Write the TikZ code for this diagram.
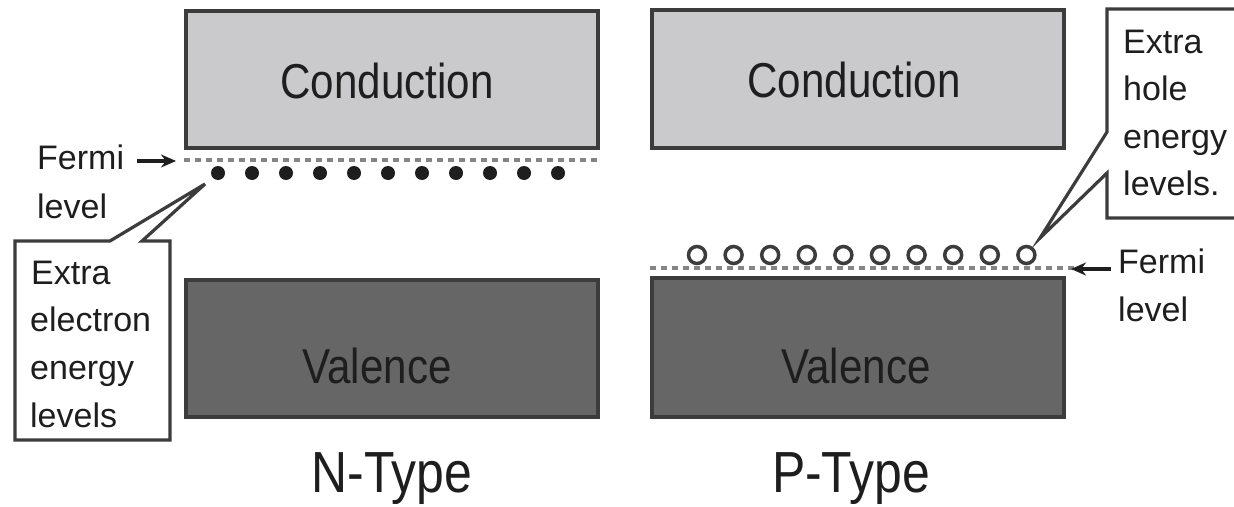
\documentclass[tikz,border=0pt]{standalone}
\usepackage{fontspec}
\setmainfont{Liberation Sans}[FakeStretch=0.86]
\newfontfamily\smallf{Liberation Sans}
\usetikzlibrary{arrows.meta}
\definecolor{condfill}{HTML}{CACACD}
\definecolor{valfill}{HTML}{666666}
\definecolor{edge}{HTML}{3C3C3C}
\definecolor{ink}{HTML}{1E1E1E}
\definecolor{fermigray}{HTML}{858585}
\tikzset{
  band/.style={draw=edge, line width=4pt},
  bigtext/.style={font=\fontsize{49}{49}\selectfont, text=ink, inner sep=0pt, anchor=base},
  titletext/.style={font=\fontsize{58}{58}\selectfont, text=ink, inner sep=0pt, anchor=base},
  smalltext/.style={font=\smallf\fontsize{34}{34}\selectfont, text=ink, inner sep=0pt, anchor=base west},
  fermiline/.style={draw=fermigray, line width=4pt, dash pattern=on 6pt off 5pt},
  callout/.style={draw=edge, fill=white, line width=3.2pt, line join=miter},
  fermiarrow/.style={draw=ink, line width=3.5pt, -{Stealth[length=15pt,width=13pt]}},
  electron/.style={fill=ink, draw=none},
  hole/.style={draw=edge, line width=3.5pt, fill=white},
}
\begin{document}
\begin{tikzpicture}[x=1pt,y=-1pt]
\useasboundingbox (0,0) rectangle (1234,506);
\fill[white] (0,0) rectangle (1234,506);

% ---------- N-type ----------
\draw[band, fill=condfill] (186,11) rectangle (598,148);
\node[bigtext] (ncond) at (387,98) {Conduction};
\draw[band, fill=valfill] (186,280) rectangle (598,417);
\node[bigtext] (nval) at (377,383) {Valence};
\node[titletext] (ntype) at (392,492) {N-Type};

\coordinate (nfl) at (184,160);
\coordinate (nfr) at (600,160);
\draw[fermiline] (nfl) -- (nfr);
\foreach \i in {0,...,10} {
  \fill[electron] (218+34*\i,173) circle (7);
}
\node[smalltext] (nfermi) at (37,169) {Fermi};
\node[smalltext] (nlevel) at (37,218) {level};
\coordinate (nat) at (137,161);
\coordinate (nah) at (176,161);
\draw[fermiarrow] (nat) -- (nah);

\draw[callout] (15,241) -- (110,241) -- (205,184) -- (142,241) -- (170,241) -- (170,440) -- (15,440) -- cycle;
\node[smalltext] (ne1) at (31,284) {Extra};
\node[smalltext] (ne2) at (30,331) {electron};
\node[smalltext] (ne3) at (30,379) {energy};
\node[smalltext] (ne4) at (30,427) {levels};

% ---------- P-type ----------
\draw[band, fill=condfill] (652,10) rectangle (1064,148);
\node[bigtext] (pcond) at (854,97) {Conduction};
\draw[band, fill=valfill] (652,278) rectangle (1064,417);
\node[bigtext] (pval) at (856,383) {Valence};
\node[titletext] (ptype) at (851,492) {P-Type};

\coordinate (pfl) at (650,268);
\coordinate (pfr) at (1074,268);
\draw[fermiline] (pfl) -- (pfr);
\foreach \i in {0,...,9} {
  \draw[hole] (697+36.6*\i,255) circle (8.5);
}
\node[smalltext] (pfermi) at (1118,273) {Fermi};
\node[smalltext] (plevel) at (1118,321) {level};
\coordinate (pat) at (1111,269);
\coordinate (pah) at (1071,269);
\draw[fermiarrow] (pat) -- (pah);

\draw[callout] (1107,132) -- (1107,9) -- (1260,9) -- (1260,218) -- (1107,218) -- (1107,173) -- (1040,238) -- cycle;
\node[smalltext] (pe1) at (1123,53) {Extra};
\node[smalltext] (pe2) at (1123,100) {hole};
\node[smalltext] (pe3) at (1123,148) {energy};
\node[smalltext] (pe4) at (1123,195) {levels.};
\end{tikzpicture}
\end{document}
